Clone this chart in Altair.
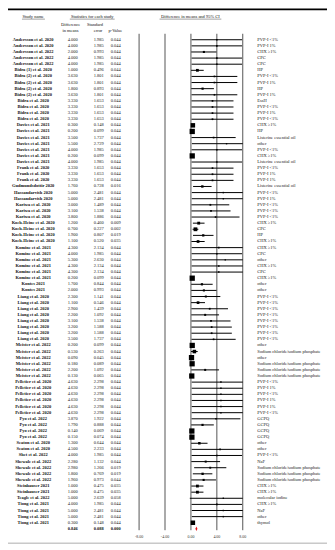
import altair as alt
import pandas as pd

names = (["Andersson et al. 2020"] * 2 + ["Andersson et al. 2022"] * 3 +
         ["Bidra (1) et al. 2020"] + ["Bidra (2) et al. 2020"] * 4 +
         ["Bidra et al. 2020"] * 4 + ["Davies et al. 2021"] * 7 +
         ["Frank et al. 2020"] * 3 + ["Gudmundsdottir 2020"] +
         ["Hassandarvish 2020"] * 2 + ["Kariwa et al. 2020"] * 3 +
         ["Koch-Heine et al. 2020"] * 4 + ["Komine et al.  2021"] * 6 +
         ["Kontes 2021"] * 2 + ["Liang et al. 2020"] * 8 +
         ["Meister et al. 2022"] * 6 + ["Pelletier et al. 2020"] * 6 +
         ["Pyo et al. 2022"] * 4 + ["Seaton et al. 2020"] * 2 +
         ["Shet et al. 2022"] + ["Shewale et al. 2022"] * 4 +
         ["Steinhauser 2021"] * 2 + ["Teagle et al. 2022"] +
         ["Tiong et al. 2021"] * 4)

diff_means = [4.000, 4.000, 2.000, 4.000, 4.000,
              1.000, 3.630, 3.630, 1.800, 3.630,
              3.330, 3.330, 3.330, 3.330,
              0.300, 0.200, 3.500, 5.500, 4.000, 0.200, 4.000,
              3.330, 3.330, 3.330,
              1.760,
              5.000, 5.000,
              3.000, 3.100, 3.800,
              1.200, 0.700, 1.900, 1.100,
              4.300, 4.000, 5.300, 4.300, 4.300, 0.200,
              1.700, 2.000,
              2.300, 1.100, 2.900, 2.200, 3.100, 3.200, 3.200, 3.500,
              0.200, 0.530, 0.090, 0.180, 2.200, 0.130,
              4.630, 4.630, 4.630, 4.630, 4.630, 4.630,
              3.870, 1.790, 0.140, 0.150,
              1.300, 4.500,
              4.000,
              2.280, 2.980, 1.800, 1.960,
              1.000, 1.000,
              5.000,
              4.000, 5.000, 5.000, 0.300]

std_err = [1.985, 1.985, 0.993, 1.985, 1.985,
           0.496, 1.801, 1.801, 0.893, 1.801,
           1.653, 1.653, 1.653, 1.653,
           0.148, 0.099, 1.737, 2.729, 1.985, 0.099, 1.985,
           1.653, 1.653, 1.653,
           0.728,
           2.481, 2.481,
           1.489, 1.538, 1.886,
           0.460, 0.227, 0.807, 0.520,
           2.134, 1.985, 2.630, 2.134, 2.134, 0.099,
           0.844, 0.993,
           1.141, 0.546, 1.439, 1.092, 1.538, 1.588, 1.588, 1.737,
           0.099, 0.263, 0.045, 0.089, 1.092, 0.065,
           2.298, 2.298, 2.298, 2.298, 2.298, 2.298,
           1.922, 0.888, 0.069, 0.074,
           0.644, 2.233,
           1.985,
           1.132, 1.266, 0.769, 0.973,
           0.475, 0.475,
           2.639,
           1.985, 2.481, 2.481, 0.148]

p_values = ([0.044] * 24 + [0.016] + [0.044] * 5 + [0.009, 0.002, 0.019, 0.035] +
            [0.044] * 36 + [0.019, 0.019, 0.044, 0.035, 0.035, 0.058] + [0.044] * 4)

groups = ["PVP-I <1%", "PVP-I 1%", "CHX \u22651%", "CPC", "CPC",
          "HP", "PVP-I <1%", "PVP-I 1%", "HP", "PVP-I 1%",
          "EssH", "PVP-I <1%", "PVP-I 1%", "PVP-I <1%",
          "CHX \u22651%", "HP", "Listerine essential oil", "other", "PVP-I <1%", "CHX \u22651%", "Listerine essential oil",
          "PVP-I <1%", "PVP-I 1%", "PVP-I 1%",
          "Listerine essential oil",
          "PVP-I <1%", "PVP-I 1%",
          "PVP-I <1%", "PVP-I <1%", "PVP-I <1%",
          "CHX \u22651%", "CPC", "HP", "CHX \u22651%",
          "CHX \u22651%", "CPC", "other", "CHX \u22651%", "CPC", "CHX \u22651%",
          "other", "other"] + ["PVP-I <1%"] * 8 + [
          "other", "Sodium chloride/sodium phosphate", "other",
          "Sodium chloride/sodium phosphate", "Sodium chloride/sodium phosphate", "Sodium chloride/sodium phosphate",
          "PVP-I <1%", "PVP-I 1%", "PVP-I <1%", "PVP-I 1%", "PVP-I 1%", "PVP-I <1%",
          "GCPQ", "GCPQ", "GCPQ", "GCPQ",
          "other", "other",
          "PVP-I <1%",
          "NaF", "Sodium chloride/sodium phosphate", "Sodium chloride/sodium phosphate", "Sodium chloride/sodium phosphate",
          "CHX \u22651%", "CHX \u22651%",
          "molecular iodine",
          "CHX \u22651%", "NaF", "other", "thymol"]

summary_est = 0.846
summary_se = 0.088
summary_p = 0.000

axis_ticks = [-8, -4, 0, 4, 8]
axis_labels = ["-8.00", "-4.00", "0.00", "4.00", "8.00"]

FONT = "Liberation Serif"
n = len(names)

df = pd.DataFrame({
    "row": list(range(n)),
    "name": names,
    "est": diff_means,
    "se": std_err,
    "p": p_values,
    "group": groups,
})
df["lo"] = df["est"] - 1.96 * df["se"]
df["hi"] = df["est"] + 1.96 * df["se"]
df["w"] = 1.0 / df["se"] ** 2
df["est_t"] = df["est"].map(lambda v: f"{v:.3f}")
df["se_t"] = df["se"].map(lambda v: f"{v:.3f}")
df["p_t"] = df["p"].map(lambda v: f"{v:.3f}")

sdf = pd.DataFrame({
    "row": [n],
    "est": [summary_est],
    "lo": [summary_est - 1.96 * summary_se],
    "hi": [summary_est + 1.96 * summary_se],
    "est_t": [f"{summary_est:.3f}"],
    "se_t": [f"{summary_se:.3f}"],
    "p_t": [f"{summary_p:.3f}"],
})

xscale = alt.Scale(domain=[-8, 8], range=[131.5, 235.5], clamp=True, nice=False, zero=False)
yscale = alt.Scale(domain=[0, 79], range=[31, 515.5], nice=False, zero=False)

tick_df = pd.DataFrame({"v": axis_ticks, "lab": axis_labels})

grid = alt.Chart(tick_df).mark_rule(color="#555555", strokeWidth=1).encode(
    x=alt.X("v:Q", scale=xscale, axis=None),
    y=alt.value(25), y2=alt.value(523))

tick_text = alt.Chart(tick_df).mark_text(font=FONT, fontSize=4, color="#333").encode(
    x=alt.X("v:Q", scale=xscale, axis=None),
    y=alt.value(530), text="lab:N")

ci = alt.Chart(df).mark_rule(color="black", strokeWidth=1).encode(
    x=alt.X("lo:Q", scale=xscale, axis=None), x2="hi:Q",
    y=alt.Y("row:Q", scale=yscale, axis=None))

squares = alt.Chart(df).mark_point(shape="square", filled=True, color="black", opacity=1).encode(
    x=alt.X("est:Q", scale=xscale, axis=None),
    y=alt.Y("row:Q", scale=yscale, axis=None),
    size=alt.Size("w:Q", scale=alt.Scale(type="pow", exponent=0.4, domain=[0, 102], range=[0, 28], clamp=True), legend=None))

diamond = alt.Chart(sdf).mark_point(shape="M0,-1L0.45,0L0,1L-0.45,0Z", filled=True, color="#e8141b", opacity=1, size=20).encode(
    x=alt.X("est:Q", scale=xscale, axis=None),
    y=alt.Y("row:Q", scale=yscale, axis=None))

def col(data, field, xpos, bold=False, align="center", size=4.5, color="#111"):
    return alt.Chart(data).mark_text(font=FONT, fontSize=size, align=align, baseline="middle",
                                     fontWeight="bold" if bold else "normal", color=color).encode(
        x=alt.value(xpos), y=alt.Y("row:Q", scale=yscale, axis=None), text=f"{field}:N")

name_col = col(df, "name", 25.3, bold=True)
est_col = col(df, "est_t", 65, color="#222")
se_col = col(df, "se_t", 91, color="#222")
p_col = col(df, "p_t", 108, color="#222")
grp_col = col(df, "group", 250, align="left", color="#222")
s_est = col(sdf, "est_t", 65, bold=True)
s_se = col(sdf, "se_t", 91, bold=True)
s_p = col(sdf, "p_t", 108, bold=True)

hdr_df = pd.DataFrame({
    "t": ["Study name", "Statistics for each study", "Difference in means and 95% CI",
          "Difference", "Standard", "in means", "error", "p-Value"],
    "x": [25.3, 84.5, 183, 62.8, 87.3, 62.7, 90.3, 107.7],
    "y": [7.7, 7.7, 7.7, 16, 16, 22.3, 22.3, 22.3],
})
headers = alt.Chart(hdr_df).mark_text(font=FONT, fontSize=4.5, baseline="middle", color="#111").encode(
    x=alt.X("x:Q", scale=None), y=alt.Y("y:Q", scale=None), text="t:N")

ul_df = pd.DataFrame({"x": [14, 62, 152], "x2": [37, 107, 214], "y": [10.3, 10.3, 10.3]})
underlines = alt.Chart(ul_df).mark_rule(color="#111", strokeWidth=0.4).encode(
    x=alt.X("x:Q", scale=None), x2="x2:Q", y=alt.Y("y:Q", scale=None))

frame_df = pd.DataFrame({"x": [0, 0], "x2": [320, 320], "y": [0.5, 536], "c": ["top", "bottom"]})
top_line = alt.Chart(frame_df[frame_df.c == "top"]).mark_rule(color="black", strokeWidth=1.8).encode(
    x=alt.X("x:Q", scale=None), x2="x2:Q", y=alt.Y("y:Q", scale=None))
bottom_line = alt.Chart(frame_df[frame_df.c == "bottom"]).mark_rule(color="#999", strokeWidth=0.8).encode(
    x=alt.X("x:Q", scale=None), x2="x2:Q", y=alt.Y("y:Q", scale=None))

chart = alt.layer(
    top_line, bottom_line, underlines, headers,
    grid, tick_text, ci, squares, diamond,
    name_col, est_col, se_col, p_col, grp_col, s_est, s_se, s_p,
).properties(
    width=320, height=540, padding=0, autosize=alt.AutoSizeParams(type="none")
).configure_view(stroke=None)

chart.save("out.html", embed_options={"renderer": "svg", "actions": False})
